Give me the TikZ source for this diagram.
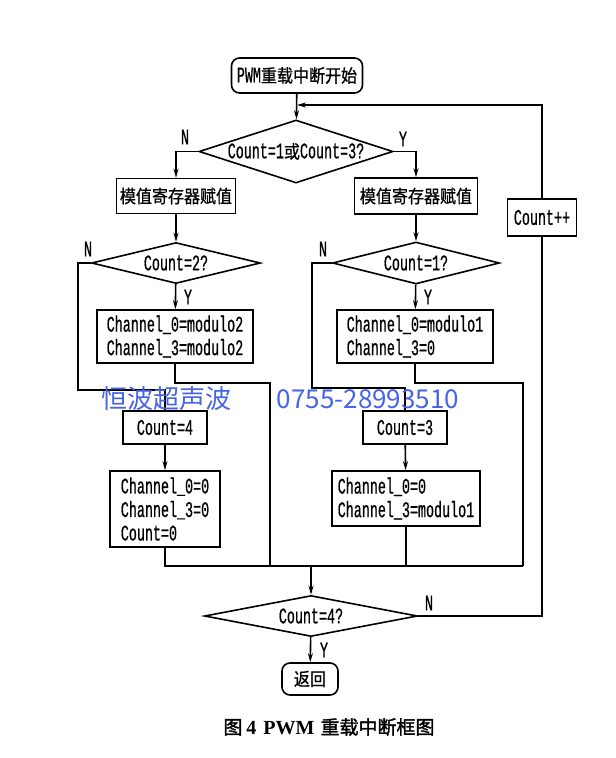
\documentclass[tikz,border=0pt]{standalone}
\usepackage{fontspec}
\usetikzlibrary{shapes.geometric,arrows.meta}
\setmainfont[FakeStretch=0.6,FakeBold=0.6]{Liberation Mono}
\newfontfamily\cjkf[FakeStretch=0.89,FakeBold=0.8]{Noto Sans CJK SC}
\newfontfamily\capcjk[FakeBold=1.5]{Noto Sans CJK SC}
\newfontfamily\wmf{Noto Sans CJK SC}
\newfontfamily\capserif{Liberation Serif}
\newcommand\cj[1]{{\fontsize{18}{20}\selectfont\cjkf #1}}
\definecolor{wmblue}{RGB}{70,100,228}
\begin{document}
\begin{tikzpicture}[x=1pt,y=-1pt,
  every node/.style={inner sep=0pt, font=\fontsize{22.3}{23.5}\selectfont},
  blk/.style={draw, rectangle, line width=1.6pt, inner sep=0pt},
  rblk/.style={blk, rounded corners=8pt},
  dia/.style={draw, diamond, line width=1.6pt, inner sep=0pt, shape aspect=3},
  ln/.style={line width=1.6pt},
  arr/.style={ln, -{Stealth[length=9pt,width=5pt]}}
]
\useasboundingbox[fill=white] (0,0) rectangle (616,758);

% nodes
\node[rblk, minimum width=131pt, minimum height=35pt] (start) at (297,75.5) {PWM\cj{重载中断开始}};
\node[dia, minimum width=194pt, minimum height=63pt] (d1) at (296,151.5) {Count=1\cj{或}Count=3?};
\node[blk, minimum width=119pt, minimum height=35pt] (bl) at (176,196) {\cj{模值寄存器赋值}};
\node[blk, minimum width=123pt, minimum height=36pt] (br) at (416,196) {\cj{模值寄存器赋值}};
\node[dia, minimum width=169pt, minimum height=41pt] (d2) at (176,263) {Count=2?};
\node[dia, minimum width=167pt, minimum height=42pt] (d3) at (416,263) {Count=1?};
\node[blk, minimum width=156pt, minimum height=53pt, align=left] (c2) at (175,336.5) {Channel\_0=modulo2\\Channel\_3=modulo2};
\node[blk, minimum width=156pt, minimum height=53pt, align=left] (c1) at (415,336.5) {Channel\_0=modulo1\\Channel\_3=0};
\node[blk, minimum width=84pt, minimum height=33pt] (k4) at (165,427.5) {Count=4};
\node[blk, minimum width=110pt, minimum height=76pt, align=left] (z4) at (165,509) {Channel\_0=0\\Channel\_3=0\\Count=0};
\node[blk, minimum width=84pt, minimum height=33pt] (k3) at (405,427.5) {Count=3};
\node[blk, minimum width=148pt, minimum height=55pt, align=left] (z3) at (406,498.5) {Channel\_0=0\\Channel\_3=modulo1};
\node[blk, minimum width=69pt, minimum height=37pt] (cpp) at (542,217.5) {Count++};
\node[dia, minimum width=213pt, minimum height=41pt] (d4) at (311,616) {Count=4?};
\node[rblk, minimum width=56pt, minimum height=32pt] (ret) at (310,679) {\cj{返回}};

% coordinates
\coordinate (jL) at (165,566);
\coordinate (j2) at (270,566);
\coordinate (j3) at (406,566);
\coordinate (jR) at (523,566);
\coordinate (m) at (311,566);
\coordinate (e2) at (270,383);
\coordinate (e1) at (523,383);
\coordinate (n2) at (78,390);
\coordinate (n3) at (312,388);
\coordinate (fb) at (542,105);
\coordinate (fbend) at (297,105);
\coordinate (n4) at (542,616);

% connectors
\draw[arr] (start) -- (d1);
\draw[arr] (d1.west) -| (bl);
\draw[arr] (d1.east) -| (br);
\draw[arr] (bl) -- (d2);
\draw[arr] (br) -- (d3);
\draw[arr] (d2) -- (c2);
\draw[arr] (d3) -- (c1);
\draw[ln] (d2.west) -| (n2) -| (k4.north);
\draw[ln] (d3.west) -| (n3) -| (k3.north);
\draw[ln] (c2.south) |- (e2) -- (j2);
\draw[ln] (c1.south) |- (e1) -- (jR);
\draw[arr] (k4) -- (z4);
\draw[arr] (k3) -- (z3);
\draw[ln] (z4.south) -- (jL) -- (jR);
\draw[ln] (z3.south) -- (j3);
\draw[arr] (m) -- (d4);
\draw[arr] (d4) -- (ret);
\draw[ln] (d4.east) -- (n4) -- (cpp.south);
\draw[arr] (cpp.north) -- (fb) -- (fbend);

% labels
\node (lN1) at (185,137) {N};
\node (lY1) at (403,139) {Y};
\node (lN2) at (88,249) {N};
\node (lY2) at (188,297) {Y};
\node (lN3) at (323,249) {N};
\node (lY3) at (428,297) {Y};
\node (lN4) at (429,603) {N};
\node (lY4) at (324,650) {Y};

% caption
\node (cap) at (329,727) {{\fontsize{19}{20}\selectfont\capcjk 图}\hspace{4pt}{\fontsize{20}{20}\selectfont\capserif\bfseries 4\hspace{7pt}PWM}\hspace{6pt}{\fontsize{19}{20}\selectfont\capcjk 重载中断框图}};

% watermark
\node[text=wmblue] (wm1) at (166,399) {\fontsize{26}{28}\selectfont\wmf 恒波超声波};
\node[text=wmblue] (wm2) at (368,399) {\fontsize{26}{28}\selectfont\wmf 0755-28993510};
\end{tikzpicture}
\end{document}
